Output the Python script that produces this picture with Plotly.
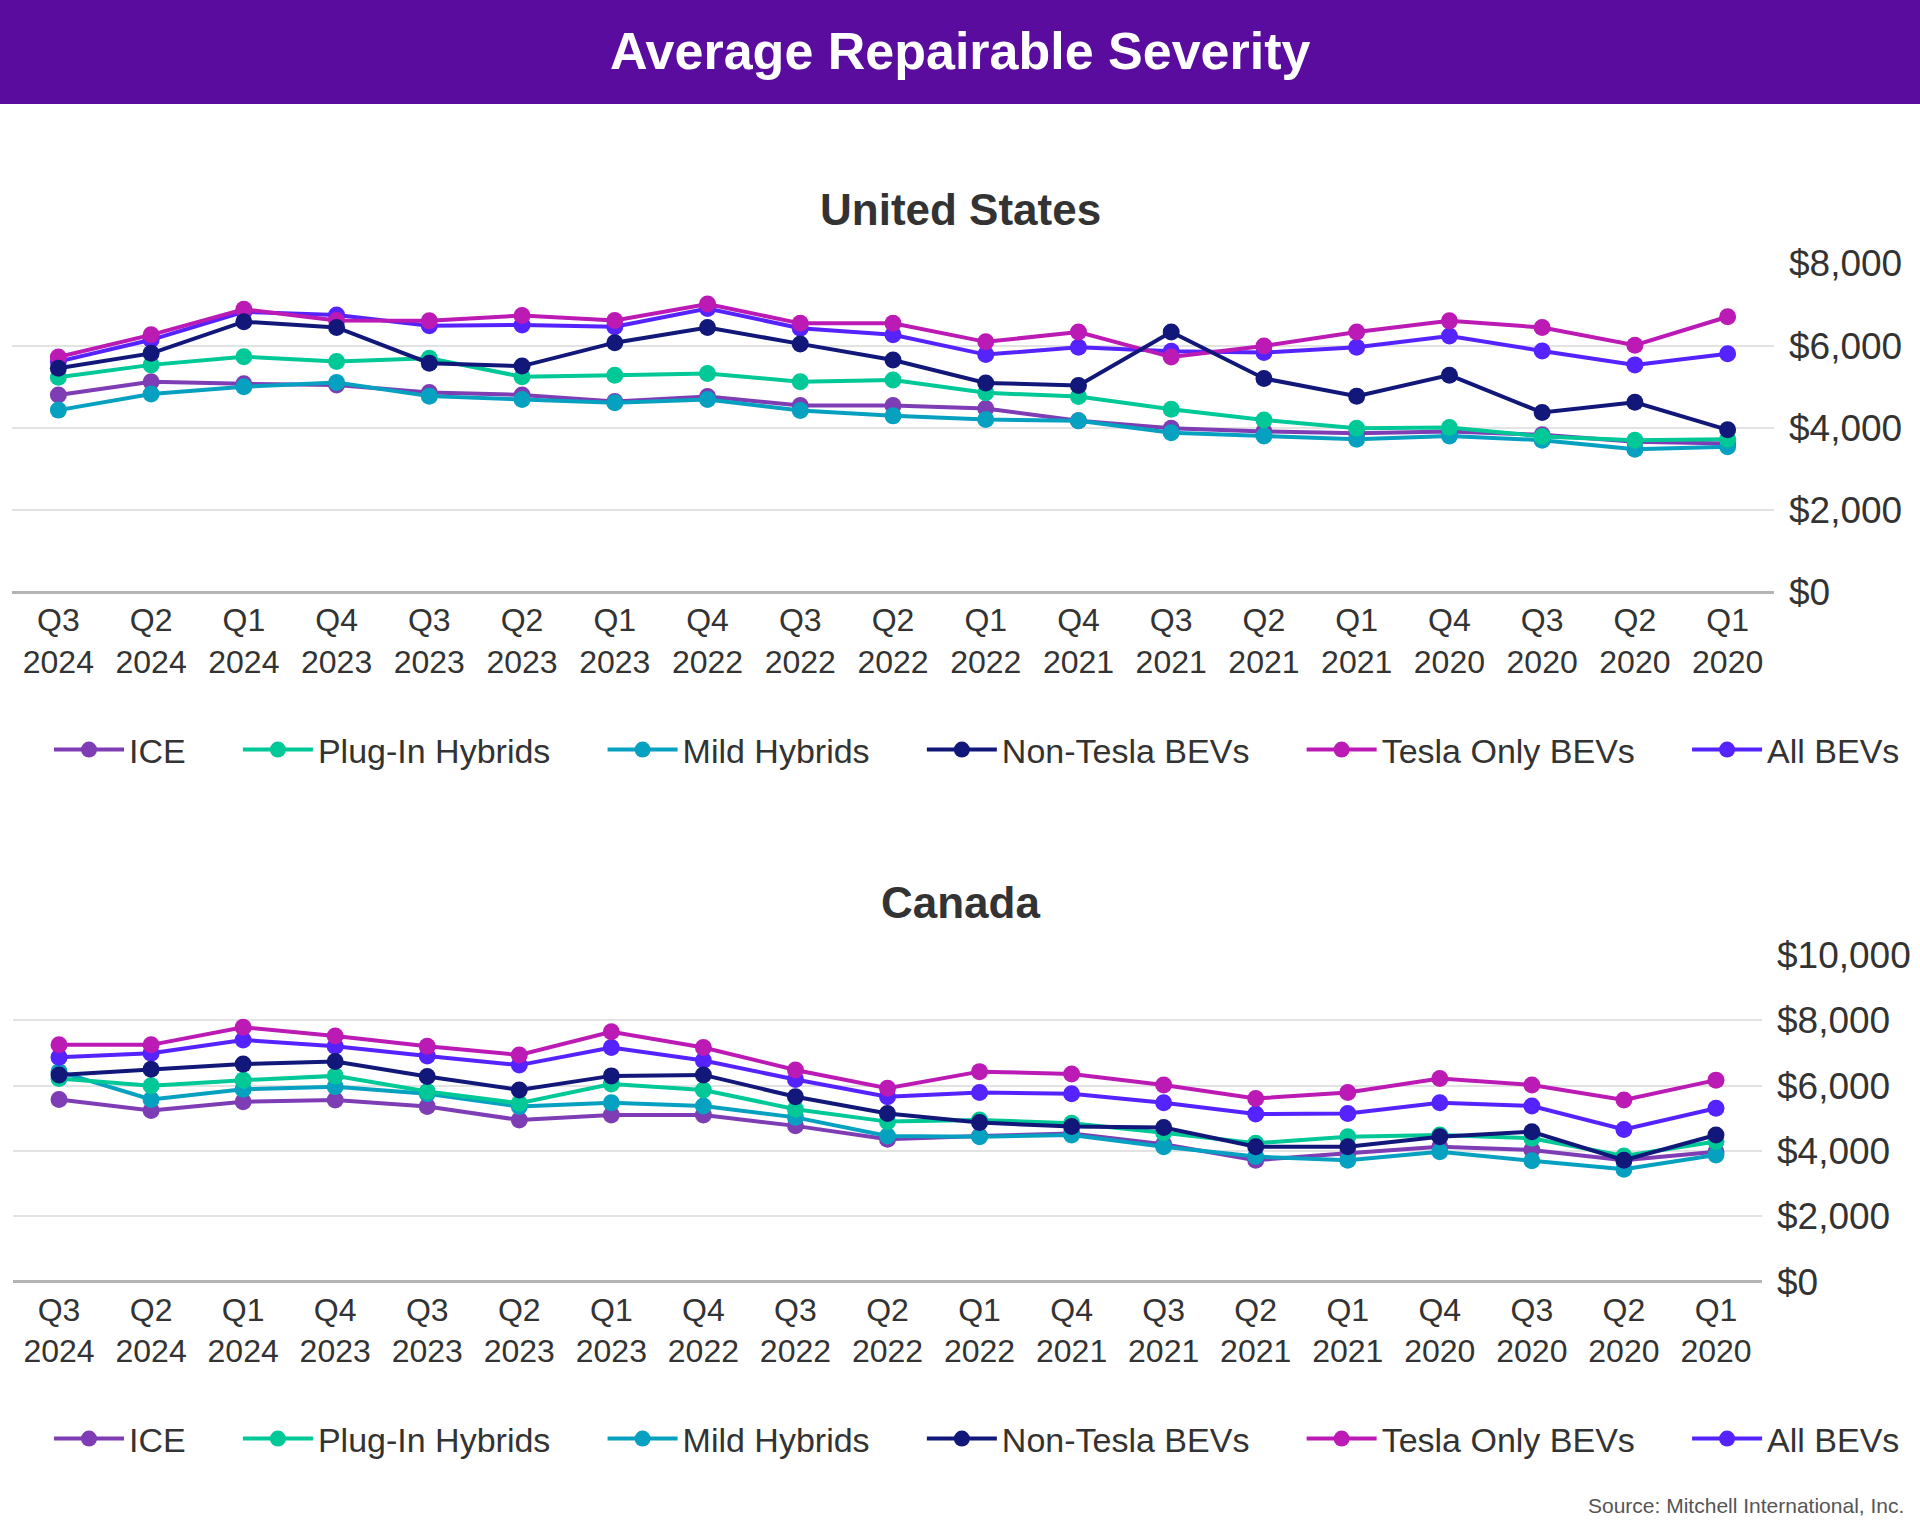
import plotly.graph_objects as go

quarters = ["Q1<br>2020", "Q2<br>2020", "Q3<br>2020", "Q4<br>2020",
            "Q1<br>2021", "Q2<br>2021", "Q3<br>2021", "Q4<br>2021",
            "Q1<br>2022", "Q2<br>2022", "Q3<br>2022", "Q4<br>2022",
            "Q1<br>2023", "Q2<br>2023", "Q3<br>2023", "Q4<br>2023",
            "Q1<br>2024", "Q2<br>2024", "Q3<br>2024"]

series_names = ["All BEVs", "Tesla Only BEVs", "Non-Tesla BEVs",
                "Mild Hybrids", "Plug-In Hybrids", "ICE"]

# United States
us_all_bevs = [5800, 5530, 5870, 6230, 5960, 5830, 5860, 5960, 5780, 6260,
               6420, 6900, 6460, 6500, 6480, 6740, 6820, 6140, 5610]
us_tesla = [6700, 6010, 6440, 6600, 6330, 5990, 5720, 6330, 6090, 6540,
            6540, 7010, 6610, 6730, 6600, 6610, 6880, 6260, 5720]
us_non_tesla = [3950, 4620, 4370, 5280, 4770, 5200, 6330, 5030, 5090, 5650,
                6040, 6440, 6070, 5500, 5570, 6440, 6580, 5810, 5450]
us_mild = [3540, 3480, 3700, 3800, 3720, 3800, 3880, 4170, 4200, 4290,
           4420, 4690, 4610, 4690, 4770, 5100, 5000, 4820, 4430]
us_plugin = [3720, 3700, 3790, 4010, 3990, 4190, 4450, 4760, 4850, 5160,
             5120, 5320, 5280, 5240, 5690, 5610, 5730, 5530, 5230]
us_ice = [3620, 3660, 3830, 3910, 3870, 3910, 3990, 4170, 4470, 4540,
          4540, 4760, 4640, 4800, 4860, 5040, 5070, 5120, 4800]

# Canada
ca_all_bevs = [5310, 4660, 5380, 5480, 5150, 5130, 5480, 5750, 5790, 5660,
               6190, 6770, 7170, 6630, 6910, 7210, 7400, 6990, 6870]
ca_tesla = [6170, 5560, 6020, 6220, 5790, 5610, 6020, 6360, 6430, 5920,
            6480, 7170, 7650, 6940, 7210, 7520, 7790, 7250, 7250]
ca_non_tesla = [4490, 3720, 4590, 4440, 4130, 4130, 4720, 4750, 4870, 5150,
                5660, 6330, 6300, 5870, 6280, 6740, 6660, 6500, 6330]
ca_mild = [3880, 3440, 3700, 3980, 3720, 3830, 4130, 4490, 4440, 4460,
           5030, 5380, 5480, 5360, 5750, 5970, 5890, 5580, 6430]
ca_plugin = [4290, 3850, 4390, 4490, 4440, 4240, 4560, 4850, 4950, 4900,
             5280, 5870, 6050, 5460, 5820, 6300, 6170, 6000, 6220]
ca_ice = [3980, 3720, 4030, 4130, 3930, 3720, 4210, 4540, 4460, 4360,
          4770, 5100, 5100, 4950, 5360, 5560, 5510, 5240, 5580]

colors = {"All BEVs": "#5523FF", "Tesla Only BEVs": "#BC1AB4",
          "Non-Tesla BEVs": "#12177A", "Mild Hybrids": "#06A0C0",
          "Plug-In Hybrids": "#00C896", "ICE": "#7E3DB5"}

# legend order left->right as in the picture
legend_rank = {"ICE": 1, "Plug-In Hybrids": 2, "Mild Hybrids": 3,
               "Non-Tesla BEVs": 4, "Tesla Only BEVs": 5, "All BEVs": 6}

us_data = {"All BEVs": us_all_bevs, "Tesla Only BEVs": us_tesla,
           "Non-Tesla BEVs": us_non_tesla, "Mild Hybrids": us_mild,
           "Plug-In Hybrids": us_plugin, "ICE": us_ice}
ca_data = {"All BEVs": ca_all_bevs, "Tesla Only BEVs": ca_tesla,
           "Non-Tesla BEVs": ca_non_tesla, "Mild Hybrids": ca_mild,
           "Plug-In Hybrids": ca_plugin, "ICE": ca_ice}

draw_order = ["ICE", "Mild Hybrids", "Plug-In Hybrids", "All BEVs",
              "Tesla Only BEVs", "Non-Tesla BEVs"]

PAD = "\u00a0" * 5


def legend_label(name):
    return name if name == "All BEVs" else name + PAD


fig = go.Figure()
for name in draw_order:
    fig.add_trace(go.Scatter(
        x=quarters, y=us_data[name], name=legend_label(name),
        mode="lines+markers",
        line=dict(color=colors[name], width=4),
        marker=dict(color=colors[name], size=17),
        xaxis="x", yaxis="y", legend="legend",
        legendrank=legend_rank[name]))
for name in draw_order:
    fig.add_trace(go.Scatter(
        x=quarters, y=ca_data[name], name=legend_label(name),
        mode="lines+markers",
        line=dict(color=colors[name], width=4),
        marker=dict(color=colors[name], size=17),
        xaxis="x2", yaxis="y2", legend="legend2",
        legendrank=legend_rank[name]))

FONT = "Arial, Liberation Sans, sans-serif"
tick_font = dict(family=FONT, size=32, color="#333333")

xcommon = dict(type="category", range=[18.5, -0.5], showgrid=False,
               showline=False, zeroline=False, ticks="", automargin=False,
               tickfont=tick_font, ticklabelstandoff=6, fixedrange=True)
ycommon = dict(side="right", showgrid=True, gridcolor="#E3E3E3", gridwidth=2,
               zeroline=True, zerolinecolor="#B4B4B4", zerolinewidth=3,
               showline=False, ticks="", tickprefix="$", tickformat=",d",
               automargin=False, fixedrange=True,
               dtick=2000, tickfont=dict(family=FONT, size=37, color="#333333"),
               ticklabelstandoff=14)

H = 1532.0
W = 1920.0
legend_font = dict(family=FONT, size=34, color="#333333")
fig.update_layout(
    width=1920, height=1532, autosize=False,
    margin=dict(l=0, r=0, t=0, b=0, pad=0, autoexpand=False),
    paper_bgcolor="white", plot_bgcolor="white",
    font=dict(family=FONT, color="#333333"),
    xaxis=dict(domain=[12 / W, 1774 / W], anchor="y", **xcommon),
    yaxis=dict(domain=[(H - 592.3) / H, (H - 263.3) / H], anchor="x",
               range=[0, 8000], **ycommon),
    xaxis2=dict(domain=[13 / W, 1762 / W], anchor="y2", **xcommon),
    yaxis2=dict(domain=[(H - 1281.7) / H, (H - 955) / H], anchor="x2",
                range=[0, 10000], **ycommon),
    legend=dict(orientation="h", x=1905 / W, xanchor="right",
                y=(H - 750) / H, yanchor="middle",
                font=legend_font, itemwidth=70, traceorder="normal"),
    legend2=dict(orientation="h", x=1905 / W, xanchor="right",
                 y=(H - 1439) / H, yanchor="middle",
                 font=legend_font, itemwidth=70, traceorder="normal"),
    shapes=[dict(type="rect", xref="paper", yref="paper", x0=0, x1=1,
                 y0=(H - 104) / H, y1=1, fillcolor="#5A0C9E",
                 line=dict(width=0), layer="below")],
    annotations=[
        dict(text="<b>Average Repairable Severity</b>", x=0.5,
             y=(H - 51) / H, xref="paper", yref="paper", showarrow=False,
             xanchor="center", yanchor="middle",
             font=dict(family=FONT, size=52, color="white")),
        dict(text="<b>United States</b>", x=0.5, y=(H - 209) / H,
             xref="paper", yref="paper", showarrow=False,
             xanchor="center", yanchor="middle",
             font=dict(family=FONT, size=44, color="#333333")),
        dict(text="<b>Canada</b>", x=0.5, y=(H - 902) / H,
             xref="paper", yref="paper", showarrow=False,
             xanchor="center", yanchor="middle",
             font=dict(family=FONT, size=44, color="#333333")),
        dict(text="Source: Mitchell International, Inc.", x=1906 / W,
             y=(H - 1505) / H, xref="paper", yref="paper", showarrow=False,
             xanchor="right", yanchor="middle",
             font=dict(family=FONT, size=21, color="#555555")),
    ],
)

fig.write_html(
    "out.html",
    config={"displayModeBar": False, "responsive": False},
    post_script="document.body.style.margin='0';"
                "document.body.style.overflow='hidden';",
)
